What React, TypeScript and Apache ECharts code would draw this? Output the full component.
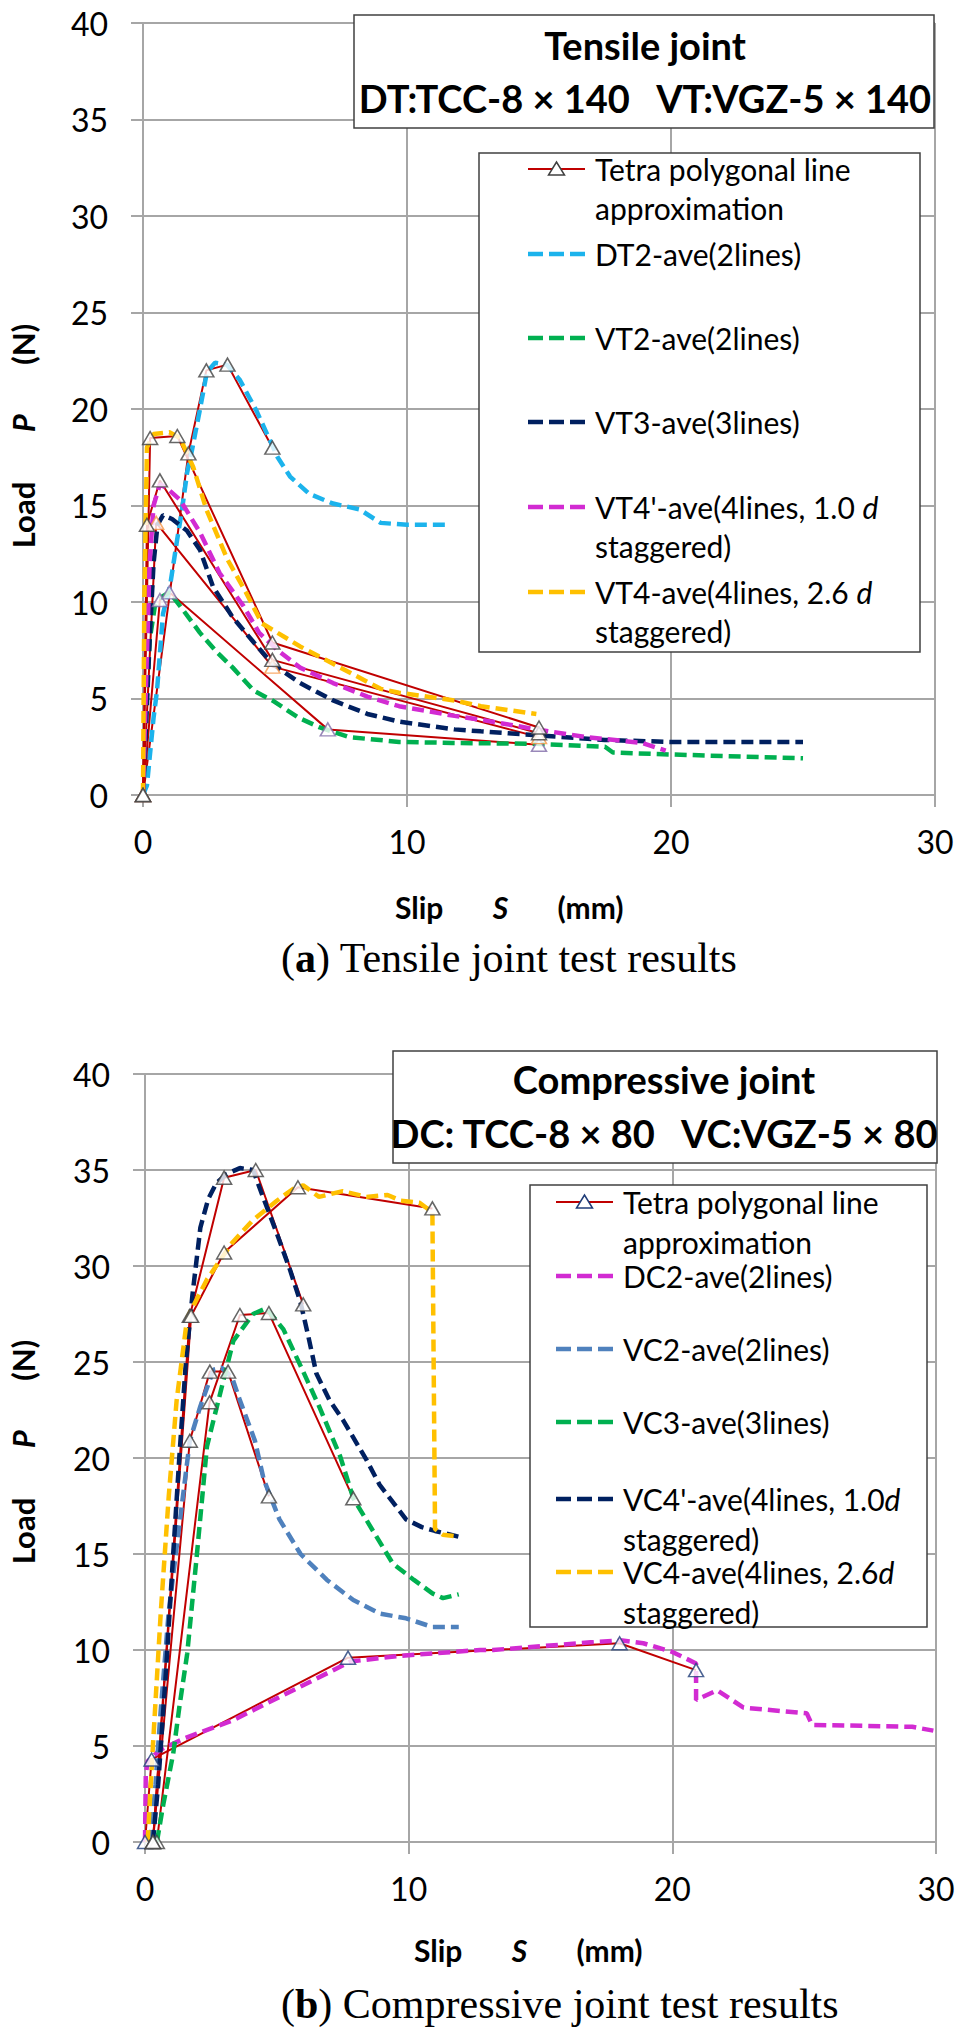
import React, { useEffect, useRef } from "react";
import * as echarts from "echarts";

// ---------------- shared axis ticks ----------------
const slipTicks = [0, 10, 20, 30];
const loadTicks = [0, 5, 10, 15, 20, 25, 30, 35, 40];

// ---------------- (a) Tensile joint: measured averages ----------------
const dt2Ave = [
  [0, 0], [0.15, 0.5], [0.4, 4], [0.53, 5.4], [0.76, 9.4], [1.02, 10.8], [1.29, 13.2], [1.48, 14.8],
  [1.67, 16.7], [1.86, 17.9], [2.16, 20.0], [2.42, 21.9], [2.73, 22.4], [3.17, 22.3], [3.67, 21.5],
  [4.3, 19.9], [4.7, 18.7], [5.1, 17.5], [5.57, 16.5], [6.3, 15.6], [7.2, 15.1], [8.2, 14.8],
  [9.0, 14.1], [10.0, 14.0], [11.6, 14.0],
];
const vt2Ave = [
  [0, 0], [0.1, 4], [0.25, 8], [0.45, 9.8], [0.75, 10.3], [1.0, 10.5], [1.4, 9.8], [2.16, 8.4],
  [2.8, 7.4], [3.4, 6.6], [4.2, 5.4], [4.9, 4.9], [5.9, 4.0], [6.7, 3.5], [7.8, 3.0], [9.7, 2.75],
  [11.7, 2.7], [14.9, 2.65], [17.5, 2.5], [17.8, 2.2], [20, 2.1], [25, 1.9],
];
const vt3Ave = [
  [0, 0], [0.1, 3], [0.25, 8], [0.4, 12], [0.55, 14], [0.76, 14.5], [1.1, 14.3], [1.66, 13.7],
  [2.16, 12.7], [2.65, 10.8], [3.4, 9.2], [4.2, 7.9], [4.9, 6.8], [5.95, 5.8], [7.2, 4.9],
  [8.5, 4.2], [9.7, 3.8], [11.8, 3.4], [12.8, 3.3], [14.9, 3.1], [17.5, 2.85], [20, 2.75], [25, 2.75],
];
const vt4pAve = [
  [0, 0], [0.1, 5], [0.25, 12], [0.4, 15], [0.64, 16.1], [0.9, 15.9], [1.4, 15.3], [2.16, 13.6],
  [2.9, 11.5], [3.8, 9.8], [4.4, 8.4], [5.1, 7.5], [5.95, 6.6], [7.2, 5.8], [8.5, 5.1], [9.7, 4.6],
  [11.8, 4.1], [12.8, 3.9], [14.9, 3.4], [16.8, 3.0], [18.9, 2.7], [19.8, 2.3],
];
const vt4Ave = [
  [0, 0], [0.05, 10], [0.15, 18.0], [0.4, 18.7], [1.0, 18.8], [1.4, 18.5], [1.9, 17.0], [2.4, 14.8],
  [3.2, 12.2], [3.9, 10.5], [4.5, 8.9], [5.1, 8.4], [5.95, 7.7], [7.2, 6.8], [9.0, 5.5], [9.7, 5.3],
  [11.8, 4.9], [12.8, 4.6], [14.9, 4.2],
];

// ---------------- (a) Tensile joint: tetra polygonal approximations ----------------
const dt2Tetra = [[0, 0], [1.72, 17.7], [2.4, 22.0], [3.2, 22.3], [4.9, 18.0]];
const vt2Tetra = [[0, 0], [0.64, 10.1], [1.0, 10.5], [7.0, 3.4], [15, 2.6]];
const vt3Tetra = [[0, 0], [0.5, 14.1], [4.9, 6.65], [15, 3.0]];
const vt4pTetra = [[0, 0], [0.15, 14.0], [0.64, 16.3], [4.9, 7.0], [15, 3.2]];
const vt4Tetra = [[0, 0], [0.27, 18.5], [1.3, 18.6], [4.9, 7.9], [15, 3.5]];

// ---------------- (b) Compressive joint: measured averages ----------------
const dc2Ave = [
  [0, 0], [0.03, 3.5], [0.1, 4.2], [0.57, 4.8], [1.5, 5.4], [3.35, 6.35], [5.9, 8.1], [7.8, 9.4],
  [9.7, 9.7], [12.7, 10.0], [13.2, 10.0], [16.9, 10.4], [18.1, 10.5], [18.9, 10.35], [20.0, 9.9],
  [20.9, 9.3], [20.9, 7.4], [21.7, 7.9], [22.7, 7.0], [25.1, 6.7], [25.3, 6.1], [29.1, 6.0], [29.9, 5.8],
];
const vc2Ave = [
  [0.2, 0], [0.4, 3], [0.57, 6.4], [0.9, 12], [1.33, 16.8], [1.7, 20.9], [2.1, 22.7], [2.6, 24.6],
  [2.9, 24.7], [3.3, 24.2], [3.6, 23.0], [4.17, 20.9], [4.5, 18.9], [5.1, 16.8], [5.9, 15.0],
  [6.9, 13.65], [7.9, 12.6], [8.9, 11.9], [9.9, 11.65], [10.9, 11.2], [11.9, 11.2],
];
const vc3Ave = [
  [0.45, 0], [0.7, 2], [1.07, 4.6], [1.3, 7], [1.6, 9.8], [1.97, 15], [2.35, 20.6], [2.73, 22.7],
  [3.35, 26.1], [4.1, 27.5], [4.6, 27.8], [5.25, 26.7], [5.9, 24.8], [6.6, 22.7], [7.4, 20.1],
  [7.9, 17.9], [8.65, 16.2], [9.4, 14.5], [10.2, 13.65], [10.9, 12.95], [11.3, 12.7], [11.9, 12.9],
];
const vc4pAve = [
  [0.3, 0], [0.5, 3], [0.8, 9], [1.07, 15], [1.3, 20], [1.55, 25], [1.8, 28.5], [2.1, 32],
  [2.4, 33.5], [2.7, 34.3], [3.1, 34.8], [3.6, 35.1], [4.1, 35.0], [4.5, 33.5], [5.0, 31.7],
  [5.5, 29.8], [5.9, 28.1], [6.2, 26.3], [6.5, 24.4], [7.0, 23.0], [7.5, 22.0], [8.4, 19.9],
  [8.9, 18.6], [9.4, 17.7], [9.9, 16.8], [10.5, 16.4], [11.0, 16.2], [11.9, 15.9],
];
const vc4Ave = [
  [0.1, 0], [0.3, 5], [0.6, 12], [0.9, 18], [1.2, 23], [1.6, 27.3], [2.35, 29.3], [3.3, 31.2],
  [4.1, 32.4], [5.0, 33.4], [5.6, 34.0], [6.0, 34.2], [6.6, 33.6], [7.5, 33.9], [8.4, 33.6],
  [9.2, 33.7], [9.7, 33.4], [10.4, 33.3], [10.9, 32.8], [11.0, 16.3], [11.3, 16.0], [11.9, 15.9],
];

// ---------------- (b) Compressive joint: tetra polygonal approximations ----------------
const dc2Tetra = [[0, 0], [0.25, 4.3], [7.7, 9.6], [18.0, 10.35], [20.9, 8.95]];
const vc2Tetra = [[0.3, 0], [1.7, 20.9], [2.46, 24.5], [3.15, 24.5], [4.7, 18.0]];
const vc3Tetra = [[0.45, 0], [2.45, 22.9], [3.6, 27.45], [4.7, 27.55], [7.9, 17.9]];
const vc4pTetra = [[0.3, 0], [1.7, 27.4], [3.0, 34.6], [4.2, 35.0], [6.0, 28.0]];
const vc4Tetra = [[0.3, 0], [1.75, 27.4], [3.0, 30.7], [5.8, 34.1], [10.9, 33.0]];

// ---------------- names / labels ----------------
const tetraName = "Tetra polygonal line approximation";
const tensileNames = [
  "DT2-ave(2lines)", "VT2-ave(2lines)", "VT3-ave(3lines)",
  "VT4'-ave(4lines, 1.0 d staggered)", "VT4-ave(4lines, 2.6 d staggered)",
];
const tensileLegendLabels = [
  "DT2-ave(2lines)", "VT2-ave(2lines)", "VT3-ave(3lines)",
  "VT4'-ave(4lines, 1.0 {i|d}\nstaggered)", "VT4-ave(4lines, 2.6 {i|d}\nstaggered)",
];
const compressiveNames = [
  "DC2-ave(2lines)", "VC2-ave(2lines)", "VC3-ave(3lines)",
  "VC4'-ave(4lines, 1.0d staggered)", "VC4-ave(4lines, 2.6d staggered)",
];
const compressiveLegendLabels = [
  "DC2-ave(2lines)", "VC2-ave(2lines)", "VC3-ave(3lines)",
  "VC4'-ave(4lines, 1.0{i|d}\nstaggered)", "VC4-ave(4lines, 2.6{i|d}\nstaggered)",
];
const tensileTitle = ["Tensile joint", "DT:TCC-8 × 140   VT:VGZ-5 × 140"];
const compressiveTitle = ["Compressive joint", "DC: TCC-8 × 80   VC:VGZ-5 × 80"];
const captionA = "({b|a}) Tensile joint test results";
const captionB = "({b|b}) Compressive joint test results";

const tensileCurves = [dt2Ave, vt2Ave, vt3Ave, vt4pAve, vt4Ave];
const tensileTetras = [dt2Tetra, vt2Tetra, vt3Tetra, vt4pTetra, vt4Tetra];
const compressiveCurves = [dc2Ave, vc2Ave, vc3Ave, vc4pAve, vc4Ave];
const compressiveTetras = [dc2Tetra, vc2Tetra, vc3Tetra, vc4pTetra, vc4Tetra];

const tensileColors = ["#1CB3EC", "#00B050", "#002060", "#D22BD2", "#FFC000"];
const compressiveColors = ["#D22BD2", "#4F81BD", "#00B050", "#002060", "#FFC000"];
const tensileMarkerColors = ["#404040", "#7F6AA8", "#F79646", "#404040", "#404040"];
const compressiveMarkerColors = ["#1F3C78", "#404040", "#404040", "#404040", "#404040"];

const GRID = "#A6A6A6";
const RED = "#C00000";
const FONT = "Lato";

function axisPair(gi: number) {
  const x = {
    type: "value", gridIndex: gi, min: 0, max: 30, interval: 10,
    axisLine: { show: true, onZero: false, lineStyle: { color: GRID, width: 2 } },
    axisTick: { show: true, length: 12, lineStyle: { color: GRID, width: 2 } },
    axisLabel: {
      fontSize: 32, fontFamily: FONT, color: "#000", margin: 30,
      formatter: (v: number) => (slipTicks.includes(v) ? String(v) : ""),
    },
    splitLine: { show: true, lineStyle: { color: GRID, width: 2 } },
  };
  const y = {
    type: "value", gridIndex: gi, min: 0, max: 40, interval: 5,
    axisLine: { show: true, onZero: false, lineStyle: { color: GRID, width: 2 } },
    axisTick: { show: true, length: 12, lineStyle: { color: GRID, width: 2 } },
    axisLabel: {
      fontSize: 32, fontFamily: FONT, color: "#000", margin: 35,
      formatter: (v: number) => (loadTicks.includes(v) ? String(v) : ""),
    },
    splitLine: { show: true, lineStyle: { color: GRID, width: 2 } },
  };
  return { x, y };
}

function buildSeries(gi: number, curves: number[][][], names: string[], colors: string[], tetras: number[][][], markerColors: string[]) {
  const out: any[] = [];
  tetras.forEach((t) => {
    out.push({
      type: "line", name: tetraName, xAxisIndex: gi, yAxisIndex: gi, data: t,
      symbol: "none", lineStyle: { color: RED, width: 2 }, z: 2, silent: true,
    });
  });
  curves.forEach((c, i) => {
    out.push({
      type: "line", name: names[i], xAxisIndex: gi, yAxisIndex: gi, data: c,
      symbol: "none", lineStyle: { color: colors[i], width: 4.5, type: [12, 6], cap: "butt" },
      z: 3, silent: true,
    });
  });
  tetras.forEach((t, i) => {
    out.push({
      type: "scatter", name: tetraName, xAxisIndex: gi, yAxisIndex: gi, data: t,
      symbol: "triangle", symbolSize: [15, 13],
      itemStyle: { color: "#ffffff", borderColor: markerColors[i], borderWidth: 1.5 },
      z: 4, silent: true,
    });
  });
  return out;
}

function text(t: string, x: number, y: number, o: any = {}) {
  return {
    type: "text", x, y, z: 101, rotation: o.rotation || 0,
    style: {
      text: t, fill: "#000", fontFamily: o.fontFamily || FONT, fontSize: o.fontSize || 30,
      fontWeight: o.fontWeight || "normal", fontStyle: o.fontStyle || "normal",
      align: o.align || "left", verticalAlign: o.verticalAlign || "middle",
      textAlign: o.align || "left", textVerticalAlign: o.verticalAlign || "middle",
      lineHeight: o.lineHeight, rich: o.rich,
    },
  };
}

function legendGraphics(box: number[], symX1: number, symX2: number, textX: number, rowsY: number[], labels: string[], colors: string[], triColor: string, lineH: number) {
  const els: any[] = [];
  els.push({
    type: "rect", z: 100, shape: { x: box[0], y: box[1], width: box[2], height: box[3] },
    style: { fill: "#fff", stroke: "#404040", lineWidth: 1.5 },
  });
  const rich = {
    i: { fontStyle: "italic", fontFamily: FONT, fontSize: 30, lineHeight: lineH },
  };
  const ty = rowsY[0];
  const cx = (symX1 + symX2) / 2;
  els.push({ type: "line", z: 101, shape: { x1: symX1, y1: ty, x2: symX2, y2: ty }, style: { stroke: RED, lineWidth: 2 } });
  els.push({
    type: "polygon", z: 102, shape: { points: [[cx - 8, ty + 6], [cx + 8, ty + 6], [cx, ty - 7]] },
    style: { fill: "#fff", stroke: triColor, lineWidth: 1.5 },
  });
  els.push(text("Tetra polygonal line\napproximation", textX, ty - lineH / 2, { verticalAlign: "top", lineHeight: lineH }));
  labels.forEach((lab, i) => {
    const y = rowsY[i + 1];
    els.push({
      type: "line", z: 101, shape: { x1: symX1, y1: y, x2: symX2, y2: y },
      style: { stroke: colors[i], lineWidth: 4.5, lineDash: [15, 6] },
    });
    els.push(text(lab, textX, y - lineH / 2, { verticalAlign: "top", lineHeight: lineH, rich }));
  });
  return els;
}

function titleBox(box: number[], lines: string[], cx: number, y1: number, y2: number) {
  return [
    {
      type: "rect", z: 100, shape: { x: box[0], y: box[1], width: box[2], height: box[3] },
      style: { fill: "#fff", stroke: "#404040", lineWidth: 1.5 },
    },
    text(lines[0], cx, y1, { align: "center", fontSize: 38, fontWeight: "bold" }),
    text(lines[1], cx, y2, { align: "center", fontSize: 38, fontWeight: "bold" }),
  ];
}

function yName(x: number, y: number) {
  return text("{a|Load} {p|P} {a|(N)}", x, y, {
    align: "center", rotation: Math.PI / 2, fontWeight: "bold", fontSize: 31,
    rich: {
      a: { fontFamily: FONT, fontWeight: "bold", fontSize: 31 },
      p: { fontFamily: FONT, fontWeight: "bold", fontStyle: "italic", fontSize: 31, padding: [0, 42, 0, 42] },
    },
  });
}

function xName(x: number, y: number) {
  return text("{a|Slip} {s|S} {a|(mm)}", x, y, {
    align: "left", fontWeight: "bold", fontSize: 30,
    rich: {
      a: { fontFamily: FONT, fontWeight: "bold", fontSize: 30 },
      s: { fontFamily: FONT, fontWeight: "bold", fontStyle: "italic", fontSize: 30, padding: [0, 42, 0, 42] },
    },
  });
}

function caption(t: string, x: number, y: number) {
  return text(t, x, y, {
    align: "left", fontFamily: "Liberation Serif", fontSize: 42,
    rich: { b: { fontFamily: "Liberation Serif", fontWeight: "bold", fontSize: 42 } },
  });
}

export default function App() {
  const ref = useRef<HTMLDivElement>(null);
  useEffect(() => {
    document.body.style.margin = "0";
    const chart = echarts.init(ref.current!, null, { renderer: "svg", width: 964, height: 2034 });
    const a0 = axisPair(0);
    const a1 = axisPair(1);
    const option: any = {
      animation: false,
      backgroundColor: "#ffffff",
      grid: [
        { left: 143, top: 23, width: 792, height: 772 },
        { left: 145, top: 1074, width: 791, height: 768 },
      ],
      xAxis: [a0.x, a1.x],
      yAxis: [a0.y, a1.y],
      series: [
        ...buildSeries(0, tensileCurves, tensileNames, tensileColors, tensileTetras, tensileMarkerColors),
        ...buildSeries(1, compressiveCurves, compressiveNames, compressiveColors, compressiveTetras, compressiveMarkerColors),
      ],
      graphic: [
        ...titleBox([354, 15, 580, 113], tensileTitle, 645, 45, 98),
        ...legendGraphics([479, 153, 441, 499], 528, 585, 595, [169, 254, 338, 422, 507, 592], tensileLegendLabels, tensileColors, "#404040", 39),
        ...titleBox([393, 1051, 544, 112], compressiveTitle, 664, 1079, 1133),
        ...legendGraphics([530, 1185, 397, 442], 556, 613, 623, [1202, 1276, 1349, 1422, 1499, 1572], compressiveLegendLabels, compressiveColors, "#1F3C78", 40),
        yName(23, 436),
        yName(23, 1452),
        xName(395, 907),
        xName(414, 1950),
        caption(captionA, 281, 958),
        caption(captionB, 281, 2004),
      ],
    };
    chart.setOption(option);
    return () => chart.dispose();
  }, []);
  return <div ref={ref} style={{ width: 964, height: 2034 }} />;
}
